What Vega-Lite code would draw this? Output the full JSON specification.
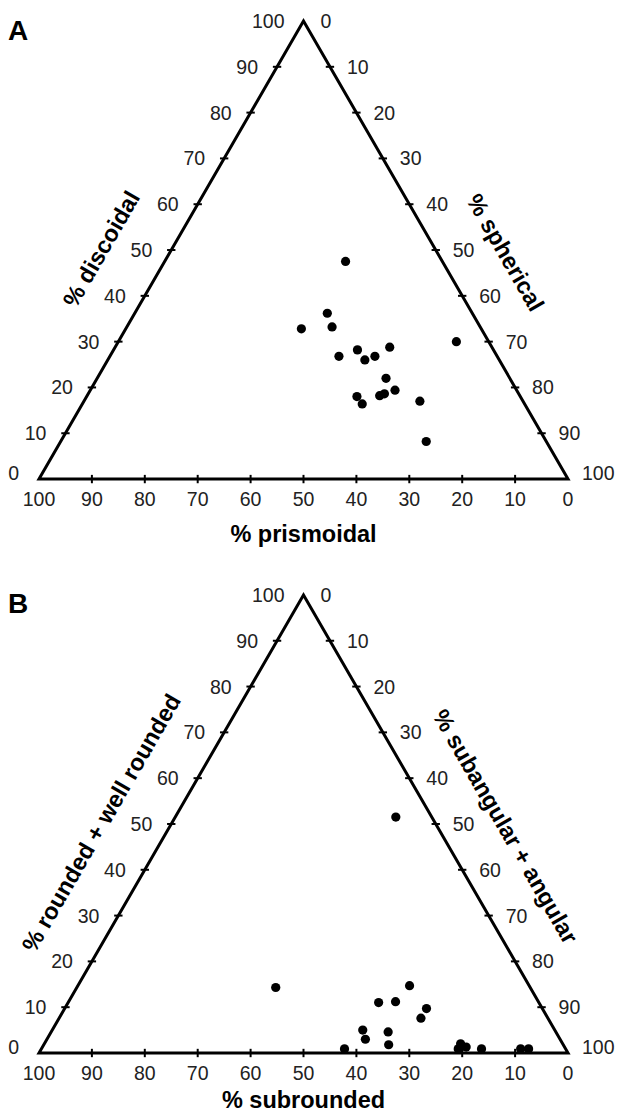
{
  "$schema": "https://vega.github.io/schema/vega-lite/v6.json",
  "width": 529,
  "height": 1032,
  "autosize": {"type": "none"},
  "padding": {"left": 39, "top": 21, "right": 51, "bottom": 62},
  "background": "white",
  "config": {"view": {"stroke": null}, "font": "Liberation Sans"},
  "datasets": {
    "shape": [
      {"prismoidal": 18.3, "discoidal": 47.5, "spherical": 34.2},
      {"prismoidal": 27.4, "discoidal": 36.2, "spherical": 36.4},
      {"prismoidal": 34.0, "discoidal": 32.8, "spherical": 33.2},
      {"prismoidal": 28.0, "discoidal": 33.2, "spherical": 38.8},
      {"prismoidal": 6.1, "discoidal": 30.0, "spherical": 63.9},
      {"prismoidal": 25.7, "discoidal": 28.2, "spherical": 46.1},
      {"prismoidal": 19.3, "discoidal": 28.8, "spherical": 51.9},
      {"prismoidal": 29.9, "discoidal": 26.8, "spherical": 43.3},
      {"prismoidal": 25.4, "discoidal": 26.0, "spherical": 48.6},
      {"prismoidal": 23.1, "discoidal": 26.8, "spherical": 50.1},
      {"prismoidal": 23.4, "discoidal": 22.0, "spherical": 54.6},
      {"prismoidal": 23.0, "discoidal": 19.4, "spherical": 57.6},
      {"prismoidal": 26.5, "discoidal": 18.2, "spherical": 55.3},
      {"prismoidal": 25.4, "discoidal": 18.6, "spherical": 56.0},
      {"prismoidal": 30.9, "discoidal": 18.0, "spherical": 51.1},
      {"prismoidal": 30.7, "discoidal": 16.4, "spherical": 52.9},
      {"prismoidal": 19.5, "discoidal": 17.0, "spherical": 63.5},
      {"prismoidal": 22.7, "discoidal": 8.2, "spherical": 69.1}
    ],
    "roundness": [
      {"subrounded": 6.8, "rounded_well_rounded": 51.5, "subangular_angular": 41.7},
      {"subrounded": 48.1, "rounded_well_rounded": 14.3, "subangular_angular": 37.6},
      {"subrounded": 22.6, "rounded_well_rounded": 14.7, "subangular_angular": 62.7},
      {"subrounded": 30.3, "rounded_well_rounded": 11.0, "subangular_angular": 58.7},
      {"subrounded": 27.0, "rounded_well_rounded": 11.2, "subangular_angular": 61.8},
      {"subrounded": 21.9, "rounded_well_rounded": 9.7, "subangular_angular": 68.4},
      {"subrounded": 24.0, "rounded_well_rounded": 7.6, "subangular_angular": 68.4},
      {"subrounded": 36.3, "rounded_well_rounded": 5.0, "subangular_angular": 58.7},
      {"subrounded": 36.8, "rounded_well_rounded": 3.0, "subangular_angular": 60.2},
      {"subrounded": 31.7, "rounded_well_rounded": 4.6, "subangular_angular": 63.7},
      {"subrounded": 33.0, "rounded_well_rounded": 1.8, "subangular_angular": 65.2},
      {"subrounded": 41.8, "rounded_well_rounded": 0.9, "subangular_angular": 57.3},
      {"subrounded": 19.3, "rounded_well_rounded": 2.0, "subangular_angular": 78.7},
      {"subrounded": 20.3, "rounded_well_rounded": 0.9, "subangular_angular": 78.8},
      {"subrounded": 18.6, "rounded_well_rounded": 1.3, "subangular_angular": 80.1},
      {"subrounded": 15.9, "rounded_well_rounded": 0.9, "subangular_angular": 83.2},
      {"subrounded": 8.5, "rounded_well_rounded": 0.9, "subangular_angular": 90.6},
      {"subrounded": 7.0, "rounded_well_rounded": 0.9, "subangular_angular": 92.1}
    ],
    "frame": [
      {"panel": "A", "corner": 1, "bottom_axis": 100, "left_axis": 0, "right_axis": 0},
      {"panel": "A", "corner": 2, "bottom_axis": 0, "left_axis": 100, "right_axis": 0},
      {"panel": "A", "corner": 3, "bottom_axis": 0, "left_axis": 0, "right_axis": 100},
      {"panel": "B", "corner": 1, "bottom_axis": 100, "left_axis": 0, "right_axis": 0},
      {"panel": "B", "corner": 2, "bottom_axis": 0, "left_axis": 100, "right_axis": 0},
      {"panel": "B", "corner": 3, "bottom_axis": 0, "left_axis": 0, "right_axis": 100}
    ],
    "scale": [
      {"edge": "bottom", "value": 0, "panel": ["A", "B"]},
      {"edge": "bottom", "value": 10, "panel": ["A", "B"]},
      {"edge": "bottom", "value": 20, "panel": ["A", "B"]},
      {"edge": "bottom", "value": 30, "panel": ["A", "B"]},
      {"edge": "bottom", "value": 40, "panel": ["A", "B"]},
      {"edge": "bottom", "value": 50, "panel": ["A", "B"]},
      {"edge": "bottom", "value": 60, "panel": ["A", "B"]},
      {"edge": "bottom", "value": 70, "panel": ["A", "B"]},
      {"edge": "bottom", "value": 80, "panel": ["A", "B"]},
      {"edge": "bottom", "value": 90, "panel": ["A", "B"]},
      {"edge": "bottom", "value": 100, "panel": ["A", "B"]},
      {"edge": "left", "value": 0, "panel": ["A", "B"]},
      {"edge": "left", "value": 10, "panel": ["A", "B"]},
      {"edge": "left", "value": 20, "panel": ["A", "B"]},
      {"edge": "left", "value": 30, "panel": ["A", "B"]},
      {"edge": "left", "value": 40, "panel": ["A", "B"]},
      {"edge": "left", "value": 50, "panel": ["A", "B"]},
      {"edge": "left", "value": 60, "panel": ["A", "B"]},
      {"edge": "left", "value": 70, "panel": ["A", "B"]},
      {"edge": "left", "value": 80, "panel": ["A", "B"]},
      {"edge": "left", "value": 90, "panel": ["A", "B"]},
      {"edge": "left", "value": 100, "panel": ["A", "B"]},
      {"edge": "right", "value": 0, "panel": ["A", "B"]},
      {"edge": "right", "value": 10, "panel": ["A", "B"]},
      {"edge": "right", "value": 20, "panel": ["A", "B"]},
      {"edge": "right", "value": 30, "panel": ["A", "B"]},
      {"edge": "right", "value": 40, "panel": ["A", "B"]},
      {"edge": "right", "value": 50, "panel": ["A", "B"]},
      {"edge": "right", "value": 60, "panel": ["A", "B"]},
      {"edge": "right", "value": 70, "panel": ["A", "B"]},
      {"edge": "right", "value": 80, "panel": ["A", "B"]},
      {"edge": "right", "value": 90, "panel": ["A", "B"]},
      {"edge": "right", "value": 100, "panel": ["A", "B"]}
    ],
    "titles": [
      {"panel": "A", "edge": "bottom", "label": "% prismoidal"},
      {"panel": "A", "edge": "left", "label": "% discoidal"},
      {"panel": "A", "edge": "right", "label": "% spherical"},
      {"panel": "B", "edge": "bottom", "label": "% subrounded"},
      {"panel": "B", "edge": "left", "label": "% rounded + well rounded"},
      {"panel": "B", "edge": "right", "label": "% subangular + angular"}
    ],
    "panels": [{"panel": "A"}, {"panel": "B"}]
  },
  "encoding": {
    "x": {"field": "X", "type": "quantitative", "scale": {"domain": [0, 100], "nice": false, "zero": false}, "axis": null},
    "y": {"field": "Y", "type": "quantitative", "scale": {"domain": [0, 225.3], "nice": false, "zero": false}, "axis": null}
  },
  "layer": [
    {
      "data": {"name": "frame"},
      "transform": [
        {"calculate": "datum.right_axis + datum.left_axis / 2", "as": "X"},
        {"calculate": "datum.left_axis + (datum.panel == 'A' ? 125.3 : 0)", "as": "Y"}
      ],
      "mark": {"type": "line", "interpolate": "linear-closed", "color": "black", "strokeWidth": 3, "strokeJoin": "miter", "strokeMiterLimit": 10},
      "encoding": {"detail": {"field": "panel"}, "order": {"field": "corner", "type": "quantitative"}}
    },
    {
      "data": {"name": "scale"},
      "transform": [
        {"flatten": ["panel"]},
        {"filter": "datum.value > 0 && datum.value < 100"},
        {"calculate": "datum.edge == 'bottom' ? 100 - datum.value : datum.edge == 'left' ? datum.value / 2 : 50 + datum.value / 2", "as": "X"},
        {"calculate": "(datum.edge == 'bottom' ? 0 : datum.edge == 'left' ? datum.value : 100 - datum.value) + (datum.panel == 'A' ? 125.3 : 0)", "as": "Y"},
        {"calculate": "datum.edge == 'bottom' ? 'vertical' : 'horizontal'", "as": "tick_dir"}
      ],
      "mark": {"type": "point", "filled": false, "color": "black", "strokeWidth": 2, "size": 70, "opacity": 1},
      "encoding": {
        "shape": {"field": "tick_dir", "type": "nominal", "scale": {"domain": ["vertical", "horizontal"], "range": ["M0,-1L0,1", "M-1,0L1,0"]}, "legend": null}
      }
    },
    {
      "data": {"name": "scale"},
      "transform": [
        {"flatten": ["panel"]},
        {"filter": "datum.edge == 'bottom'"},
        {"calculate": "100 - datum.value", "as": "X"},
        {"calculate": "datum.panel == 'A' ? 125.3 : 0", "as": "Y"}
      ],
      "mark": {"type": "text", "align": "center", "baseline": "middle", "dy": 21, "fontSize": 19.5, "color": "#222"},
      "encoding": {"text": {"field": "value", "type": "quantitative"}}
    },
    {
      "data": {"name": "scale"},
      "transform": [
        {"flatten": ["panel"]},
        {"filter": "datum.edge == 'left' && datum.value > 0"},
        {"calculate": "datum.value / 2", "as": "X"},
        {"calculate": "datum.value + (datum.panel == 'A' ? 125.3 : 0)", "as": "Y"}
      ],
      "mark": {"type": "text", "align": "right", "baseline": "middle", "dx": -19, "dy": 1, "fontSize": 19.5, "color": "#222"},
      "encoding": {"text": {"field": "value", "type": "quantitative"}}
    },
    {
      "data": {"name": "scale"},
      "transform": [
        {"flatten": ["panel"]},
        {"filter": "datum.edge == 'left' && datum.value == 0"},
        {"calculate": "0", "as": "X"},
        {"calculate": "datum.panel == 'A' ? 125.3 : 0", "as": "Y"}
      ],
      "mark": {"type": "text", "align": "right", "baseline": "middle", "dx": -20, "dy": -5, "fontSize": 19.5, "color": "#222"},
      "encoding": {"text": {"field": "value", "type": "quantitative"}}
    },
    {
      "data": {"name": "scale"},
      "transform": [
        {"flatten": ["panel"]},
        {"filter": "datum.edge == 'right' && datum.value < 100"},
        {"calculate": "50 + datum.value / 2", "as": "X"},
        {"calculate": "100 - datum.value + (datum.panel == 'A' ? 125.3 : 0)", "as": "Y"}
      ],
      "mark": {"type": "text", "align": "left", "baseline": "middle", "dx": 17, "dy": 1, "fontSize": 19.5, "color": "#222"},
      "encoding": {"text": {"field": "value", "type": "quantitative"}}
    },
    {
      "data": {"name": "scale"},
      "transform": [
        {"flatten": ["panel"]},
        {"filter": "datum.edge == 'right' && datum.value == 100"},
        {"calculate": "100", "as": "X"},
        {"calculate": "datum.panel == 'A' ? 125.3 : 0", "as": "Y"}
      ],
      "mark": {"type": "text", "align": "left", "baseline": "middle", "dx": 14, "dy": -5, "fontSize": 19.5, "color": "#222"},
      "encoding": {"text": {"field": "value", "type": "quantitative"}}
    },
    {
      "data": {"name": "titles"},
      "transform": [
        {"filter": "datum.edge == 'bottom' && datum.panel == 'A'"},
        {"calculate": "50", "as": "X"},
        {"calculate": "125.3", "as": "Y"}
      ],
      "mark": {"type": "text", "align": "center", "baseline": "middle", "dy": 56, "fontSize": 23.5, "fontWeight": "bold", "color": "black"},
      "encoding": {"text": {"field": "label", "type": "nominal"}}
    },
    {
      "data": {"name": "titles"},
      "transform": [
        {"filter": "datum.edge == 'bottom' && datum.panel == 'B'"},
        {"calculate": "50", "as": "X"},
        {"calculate": "0", "as": "Y"}
      ],
      "mark": {"type": "text", "align": "center", "baseline": "middle", "dy": 48, "fontSize": 23.5, "fontWeight": "bold", "color": "black"},
      "encoding": {"text": {"field": "label", "type": "nominal"}}
    },
    {
      "data": {"name": "titles"},
      "transform": [
        {"filter": "datum.edge == 'left'"},
        {"calculate": "25", "as": "X"},
        {"calculate": "50 + (datum.panel == 'A' ? 125.3 : 0)", "as": "Y"}
      ],
      "mark": {"type": "text", "align": "center", "baseline": "middle", "angle": -60, "dx": -34, "dy": -60, "fontSize": 23.5, "fontWeight": "bold", "color": "black"},
      "encoding": {"text": {"field": "label", "type": "nominal"}}
    },
    {
      "data": {"name": "titles"},
      "transform": [
        {"filter": "datum.edge == 'right'"},
        {"calculate": "75", "as": "X"},
        {"calculate": "50 + (datum.panel == 'A' ? 125.3 : 0)", "as": "Y"}
      ],
      "mark": {"type": "text", "align": "center", "baseline": "middle", "angle": 60, "dx": 37, "dy": -58, "fontSize": 23.5, "fontWeight": "bold", "color": "black"},
      "encoding": {"text": {"field": "label", "type": "nominal"}}
    },
    {
      "data": {"name": "panels"},
      "transform": [
        {"calculate": "0", "as": "X"},
        {"calculate": "100 + (datum.panel == 'A' ? 125.3 : 0)", "as": "Y"}
      ],
      "mark": {"type": "text", "align": "left", "baseline": "alphabetic", "dx": -31, "dy": 18.5, "fontSize": 28, "fontWeight": "bold", "color": "black"},
      "encoding": {"text": {"field": "panel", "type": "nominal"}}
    },
    {
      "data": {"name": "shape"},
      "transform": [
        {"calculate": "datum.spherical + datum.discoidal / 2", "as": "X"},
        {"calculate": "datum.discoidal + 125.3", "as": "Y"}
      ],
      "mark": {"type": "point", "filled": true, "color": "black", "size": 85, "opacity": 1}
    },
    {
      "data": {"name": "roundness"},
      "transform": [
        {"calculate": "datum.subangular_angular + datum.rounded_well_rounded / 2", "as": "X"},
        {"calculate": "datum.rounded_well_rounded", "as": "Y"}
      ],
      "mark": {"type": "point", "filled": true, "color": "black", "size": 85, "opacity": 1}
    }
  ]
}
